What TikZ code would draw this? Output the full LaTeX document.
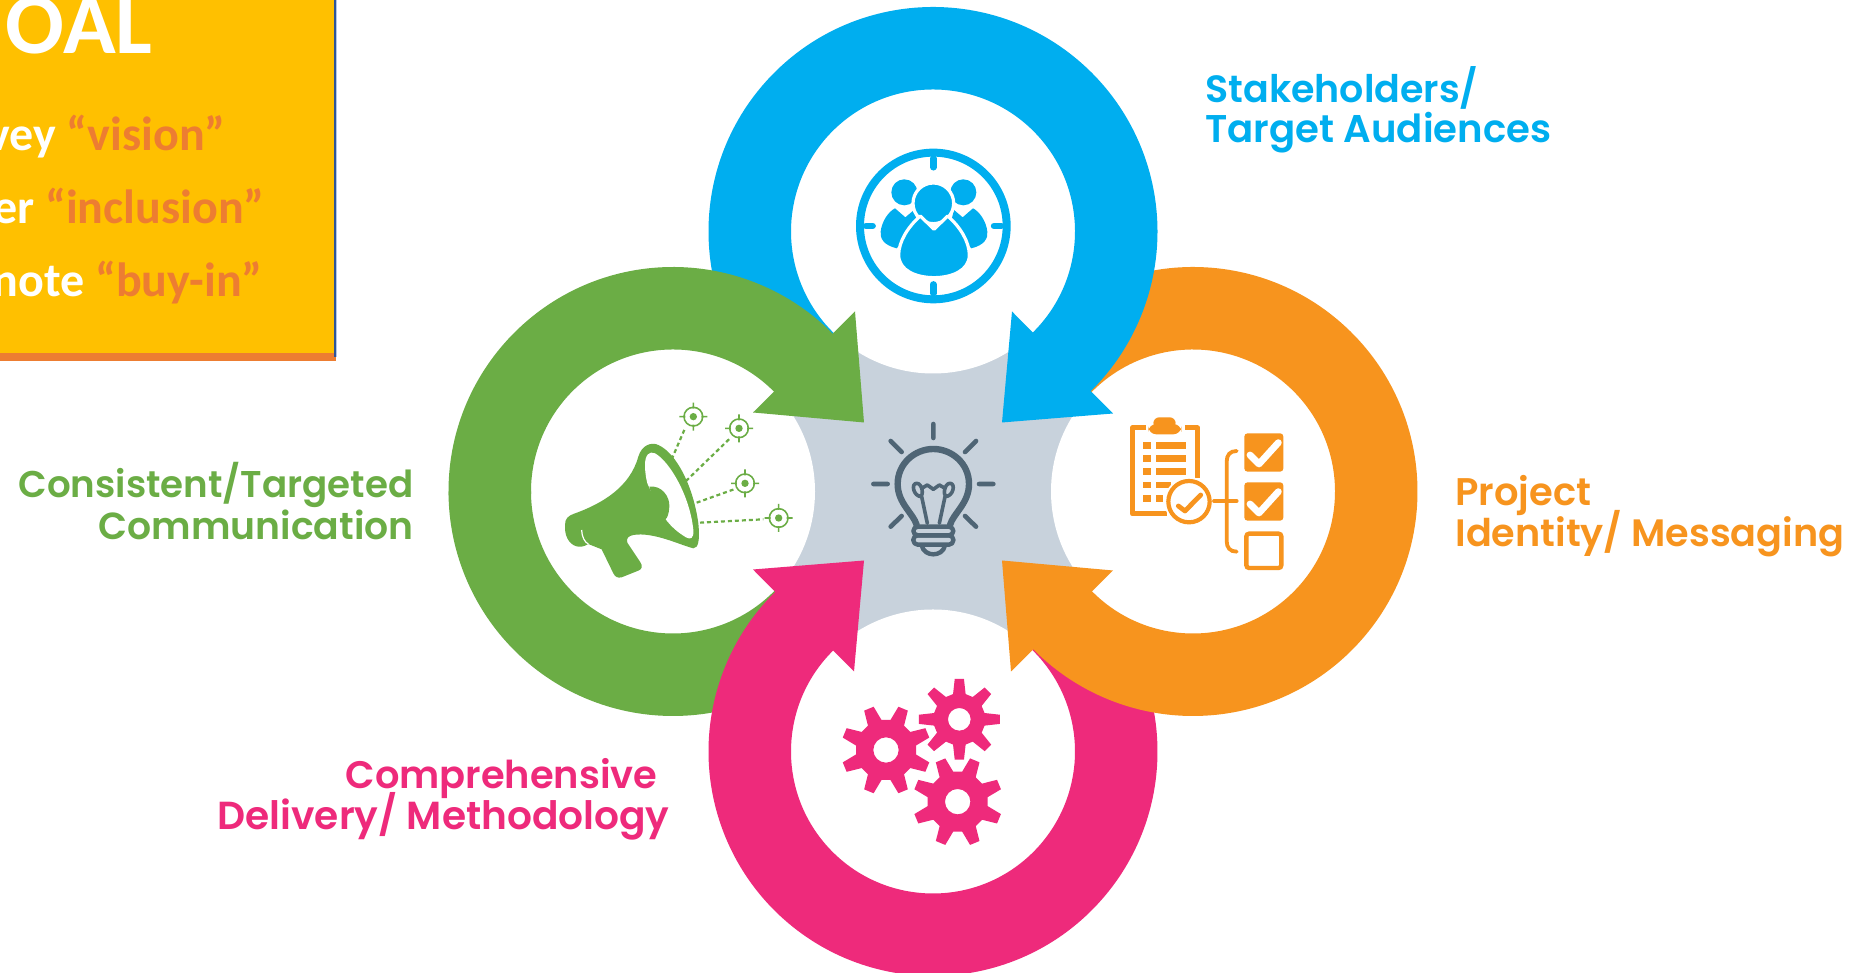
\documentclass[tikz,border=0pt]{standalone}
\usepackage{fontspec}
\usepackage{graphicx}
\setmainfont{Carlito}
\newfontfamily\lab{Poppins SemiBold}
\definecolor{cgreen}{HTML}{6BAD45}
\definecolor{cblue}{HTML}{00AEEF}
\definecolor{corange}{HTML}{F7941E}
\definecolor{cpink}{HTML}{EE2A7B}
\definecolor{cgray}{HTML}{C8D2DC}
\definecolor{cbulb}{HTML}{4F6575}
\definecolor{cyellow}{HTML}{FFC000}
\definecolor{cbar}{HTML}{ED7D31}
\definecolor{cdark}{HTML}{2F5597}
\definecolor{clight}{HTML}{B4C7E7}
\newcommand{\ringbody}[6]{\begin{scope}[shift={(#1,#2)},rotate=#3]
\fill[#6] (#4:224.5) arc[start angle=#4,end angle=#5,radius=224.5] -- (#5:142) arc[start angle=#5,end angle=#4,radius=142] -- cycle;
\end{scope}}
\newcommand{\ringhead}[4]{\begin{scope}[shift={(#1,#2)},rotate=#3]
\fill[#4] (80,79) -- (191,69) -- (182,180) -- cycle;
\end{scope}}
\newcommand{\gearicon}[5]{\begin{scope}[shift={(#1,#2)}]
\fill[cpink,even odd rule] ({#3-14}:#4-44) \foreach \a in {0,45,...,315}{ -- ({#3+\a-14}:#4-44) -- ({#3+\a-6.5}:#4) -- ({#3+\a+6.5}:#4) -- ({#3+\a+14}:#4-44)} -- cycle (0,0) circle[radius=#5];
\end{scope}}
\newcommand{\targeticon}[2]{\begin{scope}[shift={(#1,#2)}]
\draw[cgreen,line width=0.8pt] (0,0) circle[radius=28] (-42,0) -- (42,0) (0,-42) -- (0,42);
\fill[white] (0,0) circle[radius=24];
\fill[cgreen] (0,0) circle[radius=11];
\end{scope}}
\newcommand{\fitlabel}[2]{\resizebox{#1}{!}{#2}}
\tikzset{
  grid3/.style 2 args={shift={(#1,#2)},x=0.166667pt,y=-0.166667pt},
  lbl/.style={inner sep=0pt,font=\lab\fontsize{19.5}{20}\selectfont},
  boxtxt/.style={inner sep=0pt,text=white,font=\bfseries\fontsize{24}{26}\selectfont},
  rays/.style={cbulb,line width=2.3pt,line cap=round},
  bulbline/.style={cbulb,line width=2pt,line cap=round,line join=round},
}
\begin{document}
\begin{tikzpicture}[x=0.5pt,y=0.5pt]
\useasboundingbox (0,0) rectangle (1860,973);
\fill[white] (0,0) rectangle (1860,973);
% yellow box
\fill[cyellow] (0,620) rectangle (334,973);
\fill[cbar] (0,612) rectangle (336,620);
\fill[cdark] (334,616) rectangle (336,973);
\fill[clight] (336,616) rectangle (337,973);
\node[inner sep=0pt,anchor=base east,text=white,font=\bfseries\fontsize{43.5}{45}\selectfont] (goal) at (153,919) {OAL};
\node[boxtxt,anchor=base east] (l1) at (226,822) {vey \textcolor{cbar}{“vision”}};
\node[boxtxt,anchor=base east] (l2) at (265,749) {er \textcolor{cbar}{“inclusion”}};
\node[boxtxt,anchor=base east] (l3) at (263,676) {note \textcolor{cbar}{“buy-in”}};
% centre
\fill[cgray] (790,340) rectangle (1076,623);
\fill[white] (933,741.5) circle[radius=142] (933,221.5) circle[radius=142] (673,481.5) circle[radius=142] (1193,481.5) circle[radius=142];
% rings
\ringbody{673}{481.5}{0}{317}{180}{cgreen}
\ringbody{933}{221.5}{90}{317}{44}{cpink}\ringhead{933}{221.5}{90}{cpink}
\ringbody{1193}{481.5}{180}{317}{44}{corange}\ringhead{1193}{481.5}{180}{corange}
\ringbody{933}{741.5}{-90}{317}{44}{cblue}\ringhead{933}{741.5}{-90}{cblue}
\ringbody{673}{481.5}{0}{181}{44}{cgreen}\ringhead{673}{481.5}{0}{cgreen}
% bulb
\begin{scope}[grid3={700}{733}]
\draw[rays] (700,552) -- (700,594) (520,732) -- (563,732) (837,732) -- (880,732)
 (572,603) -- (605,636) (828,603) -- (795,636) (572,860) -- (605,828) (828,860) -- (795,828);
\draw[bulbline,line width=3.2pt] (650,855) .. controls (640,820) and (593,790) .. (593,732) .. controls (593,670) and (645,627) .. (700,627) .. controls (755,627) and (807,670) .. (807,732) .. controls (807,790) and (760,820) .. (750,855);
\draw[bulbline,line width=1.8pt] (682,850) -- (665,770) (718,850) -- (735,770)
 (665,770) .. controls (640,770) and (632,730) .. (650,730) .. controls (668,730) and (672,770) .. (660,768)
 (735,770) .. controls (760,770) and (768,730) .. (750,730) .. controls (732,730) and (728,770) .. (740,768)
 (665,745) -- (682,735) -- (700,748) -- (718,735) -- (735,745);
\draw[bulbline,line width=2.2pt,rounded corners=2.2pt] (640,860) rectangle (760,886);
\draw[bulbline,line width=2.2pt,rounded corners=2.2pt] (640,886) rectangle (760,914);
\draw[bulbline,line width=2.2pt] (665,916) .. controls (672,952) and (728,952) .. (735,916);
\end{scope}
% megaphone
\begin{scope}[grid3={530}{583}]
\fill[cgreen] (105,405) .. controls (105,385) and (115,378) .. (130,372) .. controls (220,340) and (300,290) .. (325,200) .. controls (335,165) and (365,155) .. (385,165) .. controls (440,190) and (490,290) .. (505,400) .. controls (510,450) and (505,475) .. (490,475) .. controls (450,465) and (370,425) .. (310,435) .. controls (295,438) and (288,445) .. (292,458) -- (330,515) .. controls (340,530) and (335,538) .. (325,542) -- (275,562) .. controls (262,565) and (255,560) .. (250,550) -- (215,478) -- (175,462) .. controls (150,478) and (125,470) .. (112,445) .. controls (105,430) and (105,420) .. cycle;
\fill[white] (345,225) .. controls (345,195) and (358,182) .. (375,190) .. controls (420,215) and (480,320) .. (490,420) .. controls (492,445) and (482,450) .. (468,442) .. controls (440,425) and (425,410) .. (410,392) .. controls (390,360) and (370,320) .. (352,280) .. controls (348,265) and (345,245) .. cycle;
\fill[cgreen] (358,290) .. controls (395,285) and (420,320) .. (418,350) .. controls (417,370) and (412,385) .. (406,388) .. controls (385,365) and (367,325) .. cycle;
\draw[white,line width=0.6pt] (155,420) .. controls (155,440) and (165,458) .. (175,462);
\draw[cgreen,line width=1.1pt,dash pattern=on 2pt off 1.5pt] (425,208) -- (465,115) (468,273) -- (598,147) (500,338) -- (612,298) (510,398) -- (700,388);
\targeticon{490}{80}\targeticon{627}{115}\targeticon{645}{280}\targeticon{746}{384}
\end{scope}
% checklist
\begin{scope}[grid3={1110}{573}]
\draw[corange,line width=2.5pt,line join=round] (108,84) -- (67,84) -- (67,342) -- (172,342);
\draw[corange,line width=2.5pt,line join=round] (225,84) -- (263,84) -- (263,235);
\fill[corange,rounded corners=4pt] (115,72) rectangle (214,103);
\fill[corange,rounded corners=3pt] (130,52) rectangle (197,85);
\foreach \y in {127,166,205,245,285}{\fill[corange] (100,\y) rectangle (123,\y+20);}
\foreach \y in {127,166,205}{\fill[corange] (137,\y) rectangle (228,\y+20);}
\fill[corange] (137,245) rectangle (182,265);
\fill[corange] (137,285) rectangle (160,305);
\fill[white] (237,305) circle[radius=74];
\draw[corange,line width=2.1pt] (237,305) circle[radius=62];
\draw[corange,line width=2.4pt,line cap=round,line join=round] (205,318) -- (225,333) -- (272,285);
\draw[corange,line width=1.9pt,line cap=round] (380,153) .. controls (360,153) and (350,165) .. (350,185) -- (350,423) .. controls (350,443) and (360,455) .. (380,455);
\draw[corange,line width=1.9pt,line cap=round] (312,303) -- (380,303);
\foreach \y in {100,247}{
 \fill[corange,rounded corners=1.6pt] (403,\y) rectangle (520,\y+115);
 \draw[white,line width=3.4pt,line cap=round,line join=round] (420,\y+65) -- (447,\y+92) -- (505,\y+28);
}
\draw[corange,line width=2.2pt,rounded corners=1.4pt] (409,401) rectangle (514,504);
\end{scope}
% gears
\begin{scope}[grid3={830}{313}]
\gearicon{168}{270}{22.5}{135}{38}
\gearicon{388}{178}{0}{122}{34}
\gearicon{383}{425}{22.5}{135}{38}
\end{scope}
% people
\begin{scope}[grid3={840}{843}]
\draw[cblue,line width=4pt] (280,288) circle[radius=220];
\draw[cblue,line width=3.2pt,line cap=round] (280,85) -- (280,112) (280,463) -- (280,490) (78,288) -- (98,288) (462,288) -- (484,288);
\fill[cblue] (193,187) circle[radius=39] (370,187) circle[radius=39];
\fill[cblue] (165,235) -- (196,262) -- (222,240) -- (235,290) -- (170,355) .. controls (130,345) and (120,325) .. (122,305) .. controls (125,275) and (145,245) .. cycle;
\fill[cblue] (399,235) -- (368,262) -- (342,240) -- (329,290) -- (394,355) .. controls (434,345) and (444,325) .. (442,305) .. controls (439,275) and (419,245) .. cycle;
\draw[white,fill=cblue,line width=1.6pt] (280,220) circle[radius=61];
\draw[white,fill=cblue,line width=1.6pt,line join=round] (241,258) -- (282,298) -- (323,258) .. controls (360,290) and (388,335) .. (388,375) .. controls (388,422) and (335,443) .. (282,443) .. controls (229,443) and (176,422) .. (176,375) .. controls (176,335) and (204,290) .. cycle;
\end{scope}
% labels
\node[lbl,text=cblue,anchor=base west] (s1) at (1205,870) {\fitlabel{136.5pt}{Stakeholders/}};
\node[lbl,text=cblue,anchor=base west] (s2) at (1205,830) {\fitlabel{173pt}{Target Audiences}};
\node[lbl,text=corange,anchor=base west] (p1) at (1455,467) {\fitlabel{68pt}{Project}};
\node[lbl,text=corange,anchor=base west] (p2) at (1455,426) {\fitlabel{194.5pt}{Identity/ Messaging}};
\node[lbl,text=cgreen,anchor=base east] (c1) at (414,475) {\fitlabel{197.5pt}{Consistent/Targeted}};
\node[lbl,text=cgreen,anchor=base east] (c2) at (414,433) {\fitlabel{157.5pt}{Communication}};
\node[lbl,text=cpink,anchor=base east] (d1) at (658,184) {\fitlabel{156pt}{Comprehensive}};
\node[lbl,text=cpink,anchor=base east] (d2) at (670,143) {\fitlabel{226pt}{Delivery/ Methodology}};
\end{tikzpicture}
\end{document}
